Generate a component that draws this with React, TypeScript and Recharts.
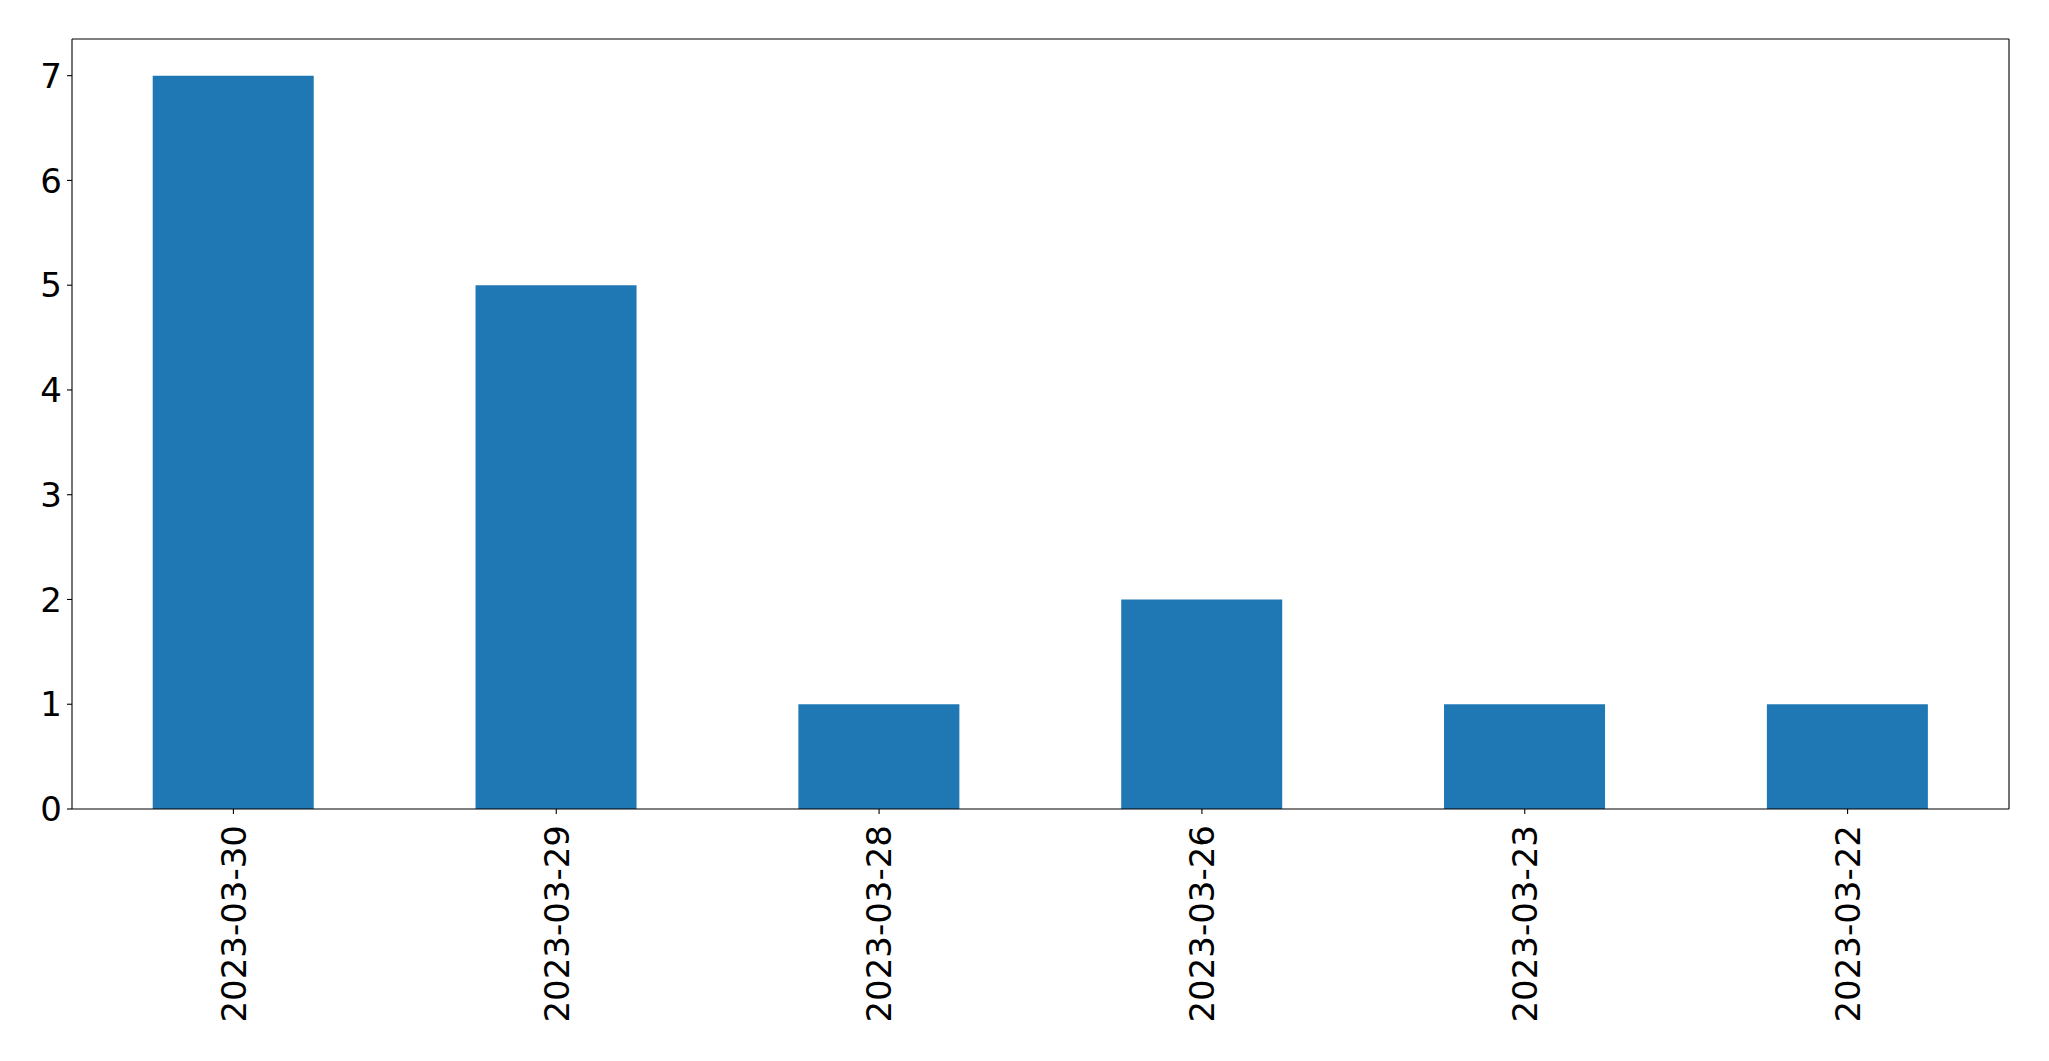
import React from 'react';
import { BarChart, Bar, XAxis, YAxis, CartesianGrid } from 'recharts';

const dates = ['2023-03-30', '2023-03-29', '2023-03-28', '2023-03-26', '2023-03-23', '2023-03-22'];
const counts = [7, 5, 1, 2, 1, 1];
const yTicks = [0, 1, 2, 3, 4, 5, 6, 7];

const FONT = '"DejaVu Sans", sans-serif';

const data = dates.map((d, i) => ({ date: d, count: counts[i] }));

// rotated date label, reads bottom-to-top like matplotlib rot=90
const DateTick = (props: any) => {
  const { x, y, payload } = props;
  return (
    <g transform={`translate(${x},${y})`}>
      <text
        transform="rotate(-90)"
        textAnchor="end"
        dy="0.36em"
        fontSize={34}
        fontFamily={FONT}
        fill="#000"
      >
        {payload.value}
      </text>
    </g>
  );
};

const CountTick = (props: any) => {
  const { x, y, payload } = props;
  return (
    <text x={x} y={y} dy="0.36em" textAnchor="end" fontSize={34} fontFamily={FONT} fill="#000">
      {payload.value}
    </text>
  );
};

export default function App() {
  return (
    <div style={{ width: 2049, height: 1061, background: '#fff' }}>
      <style>{`body{margin:0}`}</style>
      <BarChart
        width={2049}
        height={1061}
        data={data}
        margin={{ top: 39, right: 40, left: 12, bottom: 0 }}
        barCategoryGap="25%"
      >
        {/* top and right frame lines */}
        <CartesianGrid
          stroke="#000"
          strokeWidth={1.1}
          horizontalCoordinatesGenerator={({ offset }: any) => [offset.top]}
          verticalCoordinatesGenerator={({ offset }: any) => [offset.left + offset.width]}
        />
        <XAxis
          dataKey="date"
          height={252}
          interval={0}
          tickSize={5}
          tickMargin={11}
          tickLine={{ stroke: '#000', strokeWidth: 1.1 }}
          axisLine={{ stroke: '#000', strokeWidth: 1.1 }}
          tick={<DateTick />}
        />
        <YAxis
          width={60}
          domain={[0, 7.35]}
          ticks={yTicks}
          interval={0}
          tickSize={5}
          tickMargin={5}
          tickLine={{ stroke: '#000', strokeWidth: 1.1 }}
          axisLine={{ stroke: '#000', strokeWidth: 1.1 }}
          tick={<CountTick />}
        />
        <Bar dataKey="count" fill="#1f77b4" isAnimationActive={false} />
      </BarChart>
    </div>
  );
}
